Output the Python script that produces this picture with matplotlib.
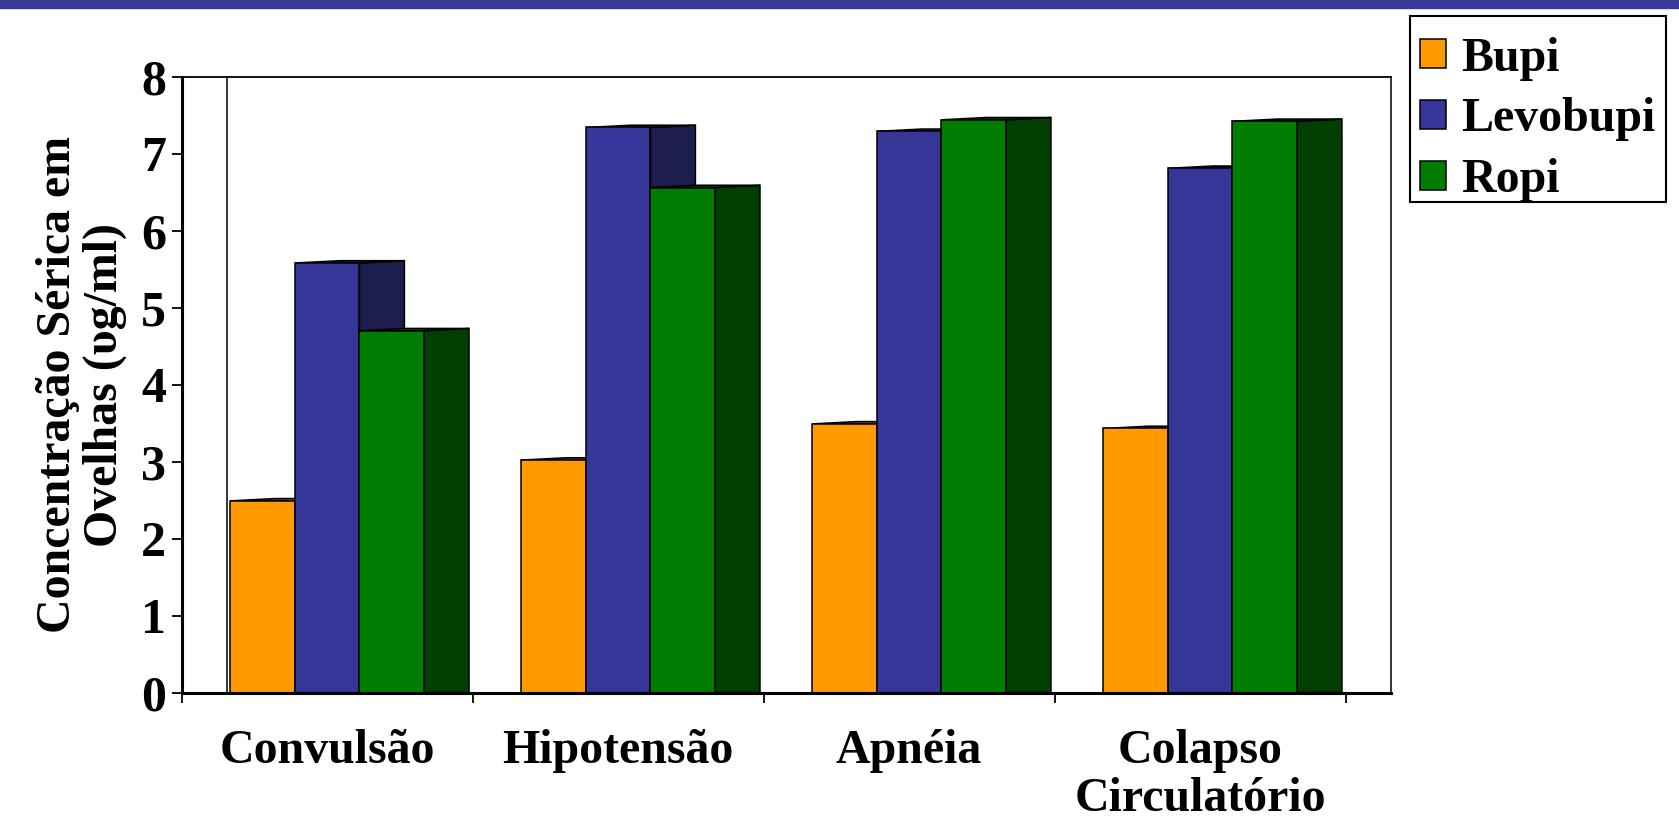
import matplotlib
matplotlib.use("Agg")
import matplotlib.pyplot as plt
from matplotlib.patches import Polygon, Patch, Rectangle

categories = ["Convulsão", "Hipotensão", "Apnéia", "Colapso\nCirculatório"]
series = ["Bupi", "Levobupi", "Ropi"]
bupi = [2.49, 3.02, 3.49, 3.43]
levobupi = [5.58, 7.34, 7.29, 6.81]
ropi = [4.70, 6.56, 7.44, 7.42]
y_ticks = [0, 1, 2, 3, 4, 5, 6, 7, 8]

front_colors = ["#FF9900", "#363698", "#007D00"]
side_colors = ["#7F4C00", "#1D1D4E", "#003F00"]

plt.rcParams["font.family"] = ["Liberation Serif", "DejaVu Serif"]
plt.rcParams["font.weight"] = "bold"

fig = plt.figure(figsize=(16.79, 8.22), dpi=100)
# blue band along the top of the slide
fig.patches.append(Rectangle((0, 1 - 8 / 822), 1, 8 / 822, transform=fig.transFigure,
                             color="#383896", zorder=0))

ax = fig.add_axes([0.1082, 0.1575, 0.72, 0.7492])

w = 0.222      # bar width in category units
depth = 0.1545  # 3d depth offset
rise = 0.03     # slight lift of the back edge
n_cat = len(categories)
ymax = y_ticks[-1]

for i, (vals, fc, sc) in enumerate(zip([bupi, levobupi, ropi], front_colors, side_colors)):
    lefts = [c + 0.5 - 1.5 * w + i * w for c in range(n_cat)]
    z = 2 + 2 * i
    for x0, v in zip(lefts, vals):
        side = Polygon([(x0 + w, 0), (x0 + w + depth, 0), (x0 + w + depth, v + rise), (x0 + w, v)],
                       closed=True, facecolor=sc, edgecolor="black", lw=1.1, zorder=z)
        top = Polygon([(x0, v), (x0 + w, v), (x0 + w + depth, v + rise), (x0 + depth, v + rise)],
                      closed=True, facecolor=sc, edgecolor="black", lw=1.1, zorder=z)
        ax.add_patch(side)
        ax.add_patch(top)
    ax.bar(lefts, vals, width=w, align="edge", color=fc, edgecolor="black", lw=1.1, zorder=z + 1)

# back wall
ax.plot([depth, depth], [0, ymax], color="black", lw=1.1, zorder=1, clip_on=False)
ax.plot([n_cat + depth, n_cat + depth], [0, ymax], color="black", lw=1.1, zorder=1, clip_on=False)
ax.plot([0, n_cat + depth], [ymax, ymax], color="black", lw=1.3, zorder=1, clip_on=False)
ax.plot([0, n_cat + depth], [0, 0], color="black", lw=2.2, zorder=10, clip_on=False)

ax.set_xlim(0, n_cat + depth)
ax.set_ylim(0, ymax)
for s in ["top", "right", "bottom"]:
    ax.spines[s].set_visible(False)
ax.spines["left"].set_linewidth(2.2)

ax.set_xticks(range(n_cat + 1))
ax.set_xticklabels([])
ax.set_xticks([c + 0.5 for c in range(n_cat)], minor=True)
ax.set_xticklabels(categories, minor=True, fontsize=34.5, fontweight="bold", linespacing=1.14)
ax.tick_params(axis="x", which="major", length=7.2, width=1.3, direction="out")
ax.tick_params(axis="x", which="minor", length=0, pad=26)

ax.set_yticks(y_ticks)
ax.set_yticklabels([str(t) for t in y_ticks], fontsize=36, fontweight="bold")
ax.tick_params(axis="y", length=7.2, width=1.3, direction="out", pad=4)

ax.set_ylabel("Concentração Sérica em\nOvelhas (υg/ml)", fontsize=34.5, fontweight="bold",
              linespacing=1.07, va="center", ha="center")
ax.yaxis.set_label_coords(-0.0828, 0.5)

# legend: entries without frame, frame drawn as its own box
handles = [Patch(facecolor=c, edgecolor="black", lw=1.1) for c in front_colors]
leg = fig.legend(handles, series, loc="upper left", bbox_to_anchor=(1410 / 1679, 1 - 27 / 822),
                 fontsize=34.5, frameon=False,
                 handlelength=0.56, handleheight=0.56, handletextpad=0.3,
                 labelspacing=0.35, borderpad=0.2, borderaxespad=0)
for t in leg.get_texts():
    t.set_fontweight("bold")
fig.patches.append(Rectangle((1410 / 1679, 1 - 202 / 822), 256 / 1679, 186 / 822,
                             transform=fig.transFigure, facecolor="none",
                             edgecolor="black", lw=1.5))

fig.savefig("out.png", dpi=100)
